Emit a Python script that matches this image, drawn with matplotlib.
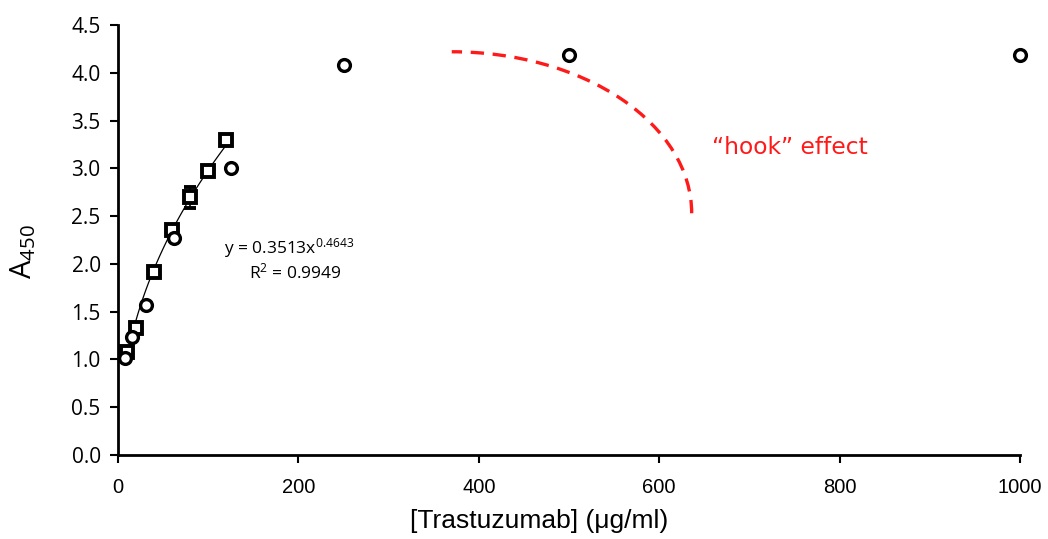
import matplotlib.pyplot as plt
import numpy as np
from matplotlib.patches import Arc

plt.rcParams['font.family'] = ['Liberation Sans', 'DejaVu Sans']
plt.rcParams['mathtext.default'] = 'regular'

# Standard curve points (squares, with SD)
std_conc = [10, 20, 40, 60, 80, 100, 120]
std_abs = [1.08, 1.33, 1.92, 2.36, 2.70, 2.97, 3.30]
std_err = [0.03, 0.03, 0.02, 0.03, 0.11, 0.03, 0.03]

# Dilution series (circles)
dil_conc = [7.8, 15.6, 31.25, 62.5, 125, 250, 500, 1000]
dil_abs = [1.02, 1.23, 1.57, 2.27, 3.00, 4.08, 4.19, 4.19]

# Power trendline y = a * x^b
fit_a, fit_b = 0.3513, 0.4643
fit_r2 = 0.9949

yticks = [0.0, 0.5, 1.0, 1.5, 2.0, 2.5, 3.0, 3.5, 4.0, 4.5]
xticks = [0, 200, 400, 600, 800, 1000]

fig = plt.figure(figsize=(10.48, 5.39), dpi=100)
ax = fig.add_axes([0.1126, 0.1558, 0.8607, 0.7978])

xf = np.linspace(min(std_conc), max(std_conc), 100)
ax.plot(xf, fit_a * xf ** fit_b, color='black', lw=0.9, zorder=2)

ax.errorbar(std_conc, std_abs, yerr=std_err, fmt='s', ms=8.5, mfc='white',
            mec='black', mew=2.8, ecolor='black', elinewidth=1.2, capsize=4,
            zorder=3, clip_on=False)
ax.plot(dil_conc, dil_abs, 'o', ms=8.5, mfc='white', mec='black', mew=2.4,
        zorder=4, clip_on=False)

# trendline equation
ax.text(190, 2.165, 'y = 0.3513x$^{%.4f}$' % fit_b, ha='center', va='center',
        fontsize=12.5, family='Open Sans')
ax.text(197, 1.914, 'R$^{2}$ = %.4f' % fit_r2, ha='center', va='center',
        fontsize=12.5, family='Open Sans')

# hook effect arc
arc = Arc((370, 2.53), width=2 * 266, height=2 * 1.69, theta1=0, theta2=90,
          color='#ff1a1a', lw=2.4, ls=(0, (4, 2.6)), zorder=1)
ax.add_patch(arc)
ax.text(658, 3.22, '\u201chook\u201d effect', color='#ff1a1a', fontsize=16.8,
        family='DejaVu Sans', ha='left', va='center')

ax.set_xlim(0, 1000)
ax.set_ylim(0, 4.5)
ax.set_xticks(xticks)
ax.set_yticks(yticks)
ax.set_yticklabels(['%.1f' % v for v in yticks], family='Open Sans', fontsize=15)
ax.tick_params(direction='out', length=5.5, width=1.5, pad=7)
ax.tick_params(axis='x', pad=11, labelsize=14.5)
for s in ['top', 'right']:
    ax.spines[s].set_visible(False)
for s in ['left', 'bottom']:
    ax.spines[s].set_linewidth(2)

ax.set_xlabel('[Trastuzumab] (μg/ml)', fontsize=19)
ax.xaxis.set_label_coords((539 - 118) / 902, -0.126)
ax.set_ylabel('A$_{450}$', fontsize=21, family='Open Sans')
ax.yaxis.set_label_coords(-0.088, 0.474)

plt.savefig('out.png', dpi=100)
